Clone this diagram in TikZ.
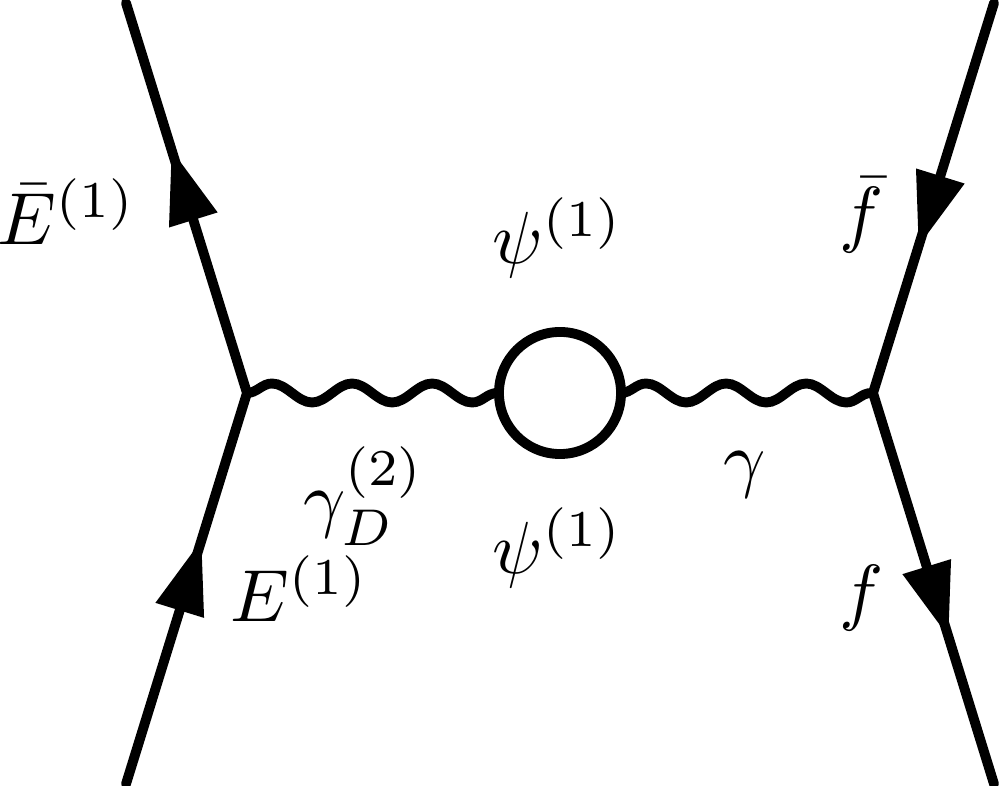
\documentclass[tikz,border=0pt]{standalone}
\usetikzlibrary{arrows.meta,decorations.pathmorphing,decorations.markings}

\tikzset{
  fermion/.style={line width=2.8pt, line cap=round, postaction={decorate},
    decoration={markings, mark=at position 0.625 with
      {\arrow{Triangle[length=0.74cm,width=0.48cm]}}}},
  photon/.style={line width=2.8pt, decorate,
    decoration={snake, segment length=0.80cm, amplitude=0.095cm}},
  blob/.style={draw, circle, line width=2.8pt, minimum size=1.22cm,
    inner sep=0pt, outer sep=0pt},
  lbl/.style={scale=2.1, inner sep=0pt}
}

\begin{document}
\begin{tikzpicture}[x=0.01cm, y=-0.01cm]
  \useasboundingbox (0,0) rectangle (1000,786);

  % vertices and external legs
  \coordinate (v1) at (247,393);
  \coordinate (v2) at (873,393);
  \coordinate (inE) at (126,784);
  \coordinate (outE) at (126,3);
  \coordinate (inf) at (994,3);
  \coordinate (outf) at (994,784);

  \node[blob] (loop) at (560,393) {};

  \draw[fermion] (inE) -- (v1);
  \draw[fermion] (v1) -- (outE);
  \draw[fermion] (inf) -- (v2);
  \draw[fermion] (v2) -- (outf);

  \draw[photon] (v1) -- (loop.west);
  \draw[photon] (loop.east) -- (v2);

  % labels
  \node[lbl] (lEbar) at (67,212) {$\bar{E}^{(1)}$};
  \node[lbl] (lE) at (300,589) {$E^{(1)}$};
  \node[lbl] (lpsiup) at (558,238) {$\psi^{(1)}$};
  \node[lbl] (lpsidown) at (558,548) {$\psi^{(1)}$};
  \node[lbl] (lgD) at (364,496) {$\gamma_D^{(2)}$};
  \node[lbl] (lg) at (745,475) {$\gamma$};
  \node[lbl] (lfbar) at (862,215) {$\bar{f}$};
  \node[lbl] (lf) at (862,598) {$f$};
\end{tikzpicture}
\end{document}
